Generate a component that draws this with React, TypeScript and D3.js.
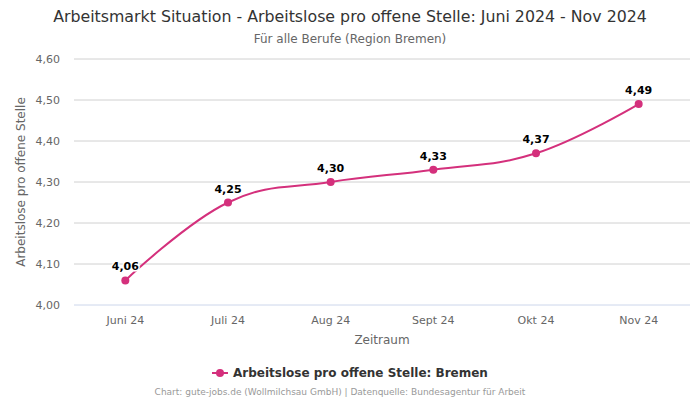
import React from 'react';
import * as d3 from 'd3';

const categories = ['Juni 24', 'Juli 24', 'Aug 24', 'Sept 24', 'Okt 24', 'Nov 24'];
const values = [4.06, 4.25, 4.30, 4.33, 4.37, 4.49];
const yTicks = [4.0, 4.1, 4.2, 4.3, 4.4, 4.5, 4.6];

const W = 700;
const H = 400;
const margin = { left: 74, right: 10, top: 59, bottom: 95 };
const color = '#d4307c';
const font = '"DejaVu Sans", sans-serif';

const fmt = (v: number) => v.toFixed(2).replace('.', ',');

// spline with smoothing 1.5, control points kept in line through each point
function splinePath(pts: [number, number][]) {
  const s = 1.5;
  const den = s + 1;
  const rc: ([number, number] | null)[] = pts.map(() => null);
  const path = d3.path();
  pts.forEach(([px, py], i) => {
    if (i === 0) {
      path.moveTo(px, py);
      return;
    }
    let lcx = px;
    let lcy = py;
    if (i < pts.length - 1) {
      const [lx, ly] = pts[i - 1];
      const [nx, ny] = pts[i + 1];
      lcx = (s * px + lx) / den;
      lcy = (s * py + ly) / den;
      const rcx = (s * px + nx) / den;
      let rcy = (s * py + ny) / den;
      let corr = 0;
      if (rcx !== lcx) corr = ((rcy - lcy) * (rcx - px)) / (rcx - lcx) + py - rcy;
      lcy += corr;
      rcy += corr;
      if (lcy > ly && lcy > py) { lcy = Math.max(ly, py); rcy = 2 * py - lcy; }
      else if (lcy < ly && lcy < py) { lcy = Math.min(ly, py); rcy = 2 * py - lcy; }
      if (rcy > ny && rcy > py) { rcy = Math.max(ny, py); lcy = 2 * py - rcy; }
      else if (rcy < ny && rcy < py) { rcy = Math.min(ny, py); lcy = 2 * py - rcy; }
      rc[i] = [rcx, rcy];
    }
    const prev = rc[i - 1] ?? pts[i - 1];
    path.bezierCurveTo(prev[0], prev[1], lcx, lcy, px, py);
  });
  return path.toString();
}

export default function App() {
  const x = d3.scaleBand<string>().domain(categories).range([margin.left, W - margin.right]);
  const y = d3.scaleLinear().domain([4.0, 4.6]).range([H - margin.bottom, margin.top]);
  const cx = (c: string) => (x(c) ?? 0) + x.bandwidth() / 2;
  const pts: [number, number][] = values.map((v, i) => [cx(categories[i]), y(v)]);
  const line = splinePath(pts);

  return (
    <div style={{ position: 'fixed', left: 0, top: 0 }}>
      <svg width={W} height={H} style={{ display: 'block', fontFamily: font, background: '#fff' }}>
        <text x={W / 2} y={22} textAnchor="middle" fontSize={15.8} fill="#333">
          Arbeitsmarkt Situation - Arbeitslose pro offene Stelle: Juni 2024 - Nov 2024
        </text>
        <text x={W / 2} y={43} textAnchor="middle" fontSize={12} fill="#666">
          Für alle Berufe (Region Bremen)
        </text>

        {yTicks.map((t) => (
          <g key={t}>
            <line x1={margin.left} x2={W - margin.right} y1={y(t)} y2={y(t)}
              stroke={t === 4.0 ? '#ccd6eb' : '#d0d0d0'} strokeWidth={1} />
            <text x={margin.left - 14} y={y(t) + 4} textAnchor="end" fontSize={11} fill="#666">
              {fmt(t)}
            </text>
          </g>
        ))}

        {categories.map((c) => (
          <text key={c} x={cx(c)} y={H - margin.bottom + 19} textAnchor="middle" fontSize={11} fill="#666">
            {c}
          </text>
        ))}

        <text x={W / 2 + 32} y={344} textAnchor="middle" fontSize={12} fill="#666">Zeitraum</text>
        <text transform={`translate(25,${(margin.top + H - margin.bottom) / 2}) rotate(-90)`}
          textAnchor="middle" fontSize={12} fill="#666">
          Arbeitslose pro offene Stelle
        </text>

        <path d={line} fill="none" stroke={color} strokeWidth={2} />
        {pts.map(([px, py], i) => (
          <g key={i}>
            <circle cx={px} cy={py} r={4} fill={color} />
            <text x={px} y={py - 10} textAnchor="middle" fontSize={11} fontWeight="bold" fill="#000"
              stroke="#fff" strokeWidth={3} paintOrder="stroke" strokeLinejoin="round">
              {fmt(values[i])}
            </text>
          </g>
        ))}

        <g transform="translate(212,373)">
          <line x1={0} x2={16} y1={0} y2={0} stroke={color} strokeWidth={2} />
          <circle cx={8} cy={0} r={4} fill={color} />
          <text x={21} y={4} fontSize={12} fontWeight="bold" fill="#333">
            Arbeitslose pro offene Stelle: Bremen
          </text>
        </g>

        <text x={340} y={395} textAnchor="middle" fontSize={9} fill="#999">
          Chart: gute-jobs.de (Wollmilchsau GmbH) | Datenquelle: Bundesagentur für Arbeit
        </text>
      </svg>
    </div>
  );
}
